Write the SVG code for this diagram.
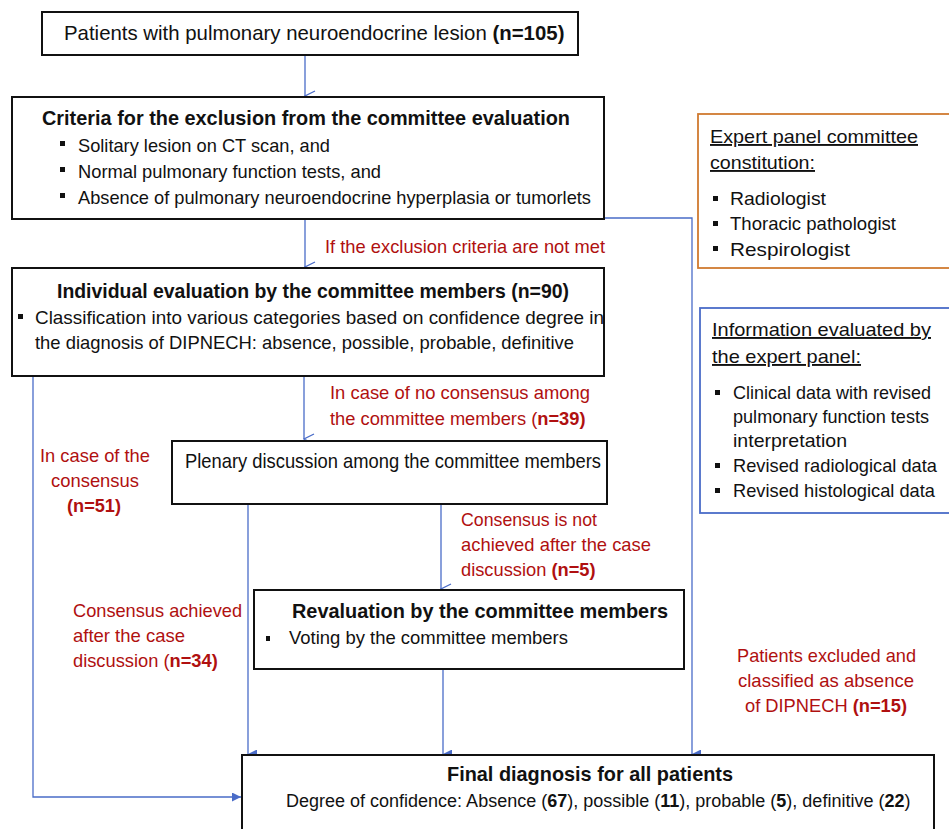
<svg xmlns="http://www.w3.org/2000/svg" width="949" height="829" viewBox="0 0 949 829">
<style>
text{font-family:"Liberation Sans",Arial,sans-serif;fill:#111}
.box{fill:#fff;stroke:#111;stroke-width:2}
.t{font-size:21px}
.b{font-weight:bold}
.s{font-size:19px}
.r{fill:#b01010;font-size:19px}
.m{font-size:18.3px}
.c{fill:none;stroke:#4a6cc8;stroke-width:1.3}
.u{text-decoration:underline}
</style>
<defs>
<marker id="open" viewBox="0 0 12 12" refX="6" refY="11" markerWidth="12" markerHeight="12" markerUnits="userSpaceOnUse" orient="auto">
<path d="M1,1 L6,11 L11,1" fill="none" stroke="#4a6cc8" stroke-width="1.3"/>
</marker>
<marker id="fill" viewBox="0 0 10 10" refX="5" refY="10" markerWidth="9" markerHeight="10" markerUnits="userSpaceOnUse" orient="auto">
<path d="M0,0 L10,0 L5,10 Z" fill="#4a6cc8"/>
</marker>
<marker id="fillr" viewBox="0 0 10 10" refX="10" refY="5" markerWidth="10" markerHeight="9" markerUnits="userSpaceOnUse" orient="0">
<path d="M0,0 L10,5 L0,10 Z" fill="#4a6cc8"/>
</marker>
</defs>

<g id="connectors">
<path class="c" d="M305,55 V96" marker-end="url(#open)"/>
<path class="c" d="M305,219 V267" marker-end="url(#open)"/>
<path class="c" d="M304,376 V439" marker-end="url(#open)"/>
<path class="c" d="M441,504 V589" marker-end="url(#open)"/>
<path class="c" d="M604,218 H692 V754" marker-end="url(#fill)"/>
<path class="c" d="M248,504 V754" marker-end="url(#fill)"/>
<path class="c" d="M443,669 V754" marker-end="url(#fill)"/>
<path class="c" d="M33,376 V797 H241" marker-end="url(#fillr)"/>
</g>

<g id="n1">
<rect class="box" x="42" y="12" width="536" height="43"/>
<text x="64" y="40" font-size="20.4">Patients with pulmonary neuroendocrine lesion <tspan class="b">(n=105)</tspan></text>
</g>

<g id="n2">
<rect class="box" x="12" y="97" width="592" height="122"/>
<text class="t b" x="42" y="125" textLength="528" lengthAdjust="spacingAndGlyphs">Criteria for the exclusion from the committee evaluation</text>
<rect x="60" y="141" width="5" height="5" fill="#111"/>
<text class="s" x="78" y="152" textLength="252" lengthAdjust="spacingAndGlyphs">Solitary lesion on CT scan, and</text>
<rect x="60" y="167" width="5" height="5" fill="#111"/>
<text class="s" x="78" y="178" textLength="303" lengthAdjust="spacingAndGlyphs">Normal pulmonary function tests, and</text>
<rect x="60" y="193" width="5" height="5" fill="#111"/>
<text class="s" x="78" y="204" textLength="513" lengthAdjust="spacingAndGlyphs">Absence of pulmonary neuroendocrine hyperplasia or tumorlets</text>
</g>

<text class="r" x="325" y="253" textLength="280" lengthAdjust="spacingAndGlyphs">If the exclusion criteria are not met</text>

<g id="n3">
<rect class="box" x="12" y="268" width="592" height="108"/>
<text class="t b" x="57" y="298" textLength="512" lengthAdjust="spacingAndGlyphs">Individual evaluation by the committee members (n=90)</text>
<rect x="18" y="314" width="5" height="5" fill="#111"/>
<text class="s" x="35" y="324" textLength="569" lengthAdjust="spacingAndGlyphs">Classification into various categories based on confidence degree in</text>
<text class="s" x="35" y="349" textLength="539" lengthAdjust="spacingAndGlyphs">the diagnosis of DIPNECH: absence, possible, probable, definitive</text>
</g>

<text class="r" x="330" y="399" textLength="260" lengthAdjust="spacingAndGlyphs">In case of no consensus among</text>
<text class="r m" x="330" y="425">the committee members (<tspan class="b">n=39)</tspan></text>

<text class="r" x="95" y="462" text-anchor="middle" textLength="110" lengthAdjust="spacingAndGlyphs">In case of the</text>
<text class="r" x="95" y="487" text-anchor="middle" textLength="88" lengthAdjust="spacingAndGlyphs">consensus</text>
<text class="r b" x="94" y="512" text-anchor="middle" textLength="54" lengthAdjust="spacingAndGlyphs">(n=51)</text>

<g id="n4">
<rect class="box" x="172" y="441" width="435" height="63"/>
<text class="t" x="185" y="468" textLength="416" lengthAdjust="spacingAndGlyphs">Plenary discussion among the committee members</text>
</g>

<text class="r" x="461" y="526" textLength="136" lengthAdjust="spacingAndGlyphs">Consensus is not</text>
<text class="r" x="461" y="551" textLength="190" lengthAdjust="spacingAndGlyphs">achieved after the case</text>
<text class="r m" x="461" y="576">discussion <tspan class="b">(n=5)</tspan></text>

<g id="n5">
<rect class="box" x="254" y="590" width="430" height="79"/>
<text class="t b" x="292" y="618" textLength="376" lengthAdjust="spacingAndGlyphs">Revaluation by the committee members</text>
<rect x="266" y="636" width="4" height="5" fill="#111"/>
<text class="s" x="289" y="644" textLength="279" lengthAdjust="spacingAndGlyphs">Voting by the committee members</text>
</g>

<text class="r" x="73" y="617" textLength="169" lengthAdjust="spacingAndGlyphs">Consensus achieved</text>
<text class="r" x="73" y="642" textLength="112" lengthAdjust="spacingAndGlyphs">after the case</text>
<text class="r m" x="73" y="667">discussion (<tspan class="b">n=34)</tspan></text>

<text class="r" x="737" y="662" textLength="179" lengthAdjust="spacingAndGlyphs">Patients excluded and</text>
<text class="r" x="738" y="687" textLength="176" lengthAdjust="spacingAndGlyphs">classified as absence</text>
<text class="r m" x="745" y="712">of DIPNECH <tspan class="b">(n=15)</tspan></text>

<g id="n6">
<rect class="box" x="242" y="755" width="692" height="90"/>
<text class="t b" x="447" y="781" textLength="286" lengthAdjust="spacingAndGlyphs">Final diagnosis for all patients</text>
<text x="286" y="807" font-size="18">Degree of confidence: Absence (<tspan class="b">67</tspan>), possible (<tspan class="b">11</tspan>), probable (<tspan class="b">5</tspan>), definitive (<tspan class="b">22</tspan>)</text>
</g>

<g id="n7">
<rect x="698" y="114" width="260" height="154" fill="#fff" stroke="#d07a30" stroke-width="1.8"/>
<text class="s u" x="710" y="143" textLength="208" lengthAdjust="spacingAndGlyphs">Expert panel committee</text>
<text class="s u" x="710" y="169" textLength="105" lengthAdjust="spacingAndGlyphs">constitution:</text>
<rect x="713" y="196" width="5" height="5" fill="#111"/>
<text class="s" x="730" y="205" textLength="96" lengthAdjust="spacingAndGlyphs">Radiologist</text>
<rect x="713" y="221" width="5" height="5" fill="#111"/>
<text class="s" x="730" y="230" textLength="166" lengthAdjust="spacingAndGlyphs">Thoracic pathologist</text>
<rect x="713" y="246" width="5" height="5" fill="#111"/>
<text class="s" x="730" y="256" textLength="120" lengthAdjust="spacingAndGlyphs">Respirologist</text>
</g>

<g id="n8">
<rect x="700" y="308" width="260" height="205" fill="#fff" stroke="#4a6cc8" stroke-width="1.8"/>
<text class="s u" x="712" y="336" textLength="219" lengthAdjust="spacingAndGlyphs">Information evaluated by</text>
<text class="s u" x="712" y="363" textLength="149" lengthAdjust="spacingAndGlyphs">the expert panel:</text>
<rect x="715" y="390" width="5" height="5" fill="#111"/>
<text class="s" x="733" y="399" textLength="198" lengthAdjust="spacingAndGlyphs">Clinical data with revised</text>
<text class="s" x="733" y="423" textLength="196" lengthAdjust="spacingAndGlyphs">pulmonary function tests</text>
<text class="s" x="733" y="447" textLength="114" lengthAdjust="spacingAndGlyphs">interpretation</text>
<rect x="715" y="463" width="5" height="5" fill="#111"/>
<text class="s" x="733" y="472" textLength="204" lengthAdjust="spacingAndGlyphs">Revised radiological data</text>
<rect x="715" y="488" width="5" height="5" fill="#111"/>
<text class="s" x="733" y="497" textLength="202" lengthAdjust="spacingAndGlyphs">Revised histological data</text>
</g>
</svg>
